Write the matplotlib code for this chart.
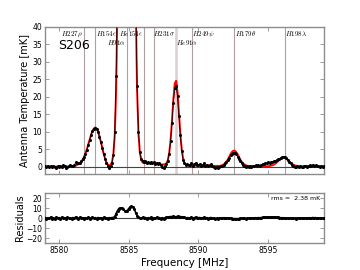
import numpy as np
import matplotlib
matplotlib.use("Agg")
import matplotlib.pyplot as plt

# channel grid, 0.1 MHz steps from 8579.0 to 8599.0
f_start = 8579.0
f_step = 0.1

# observed spectrum [mK]
tdata = [
    0.2, -0.1, 0.3, 0.0, 0.1, -0.2, 0.2, 0.0, -0.3, 0.1,
    -0.1, 0.3, -0.2, 0.4, 0.1, -0.3, 0.0, 0.2, 0.5, 0.3,
    0.1, 0.4, 1.2, 1.0, 0.9, 1.1, 1.5, 2.1, 2.7, 3.6,
    4.9, 6.2, 7.7, 9.2, 10.3, 10.9, 11.0, 10.7, 9.8, 8.5,
    7.0, 5.4, 3.7, 2.2, 1.0, 0.1, -0.3, 0.2, 1.0, 3.3,
    10, 26, 55, 101, 170, 262, 358, 443, 492, 494,
    447, 361, 263, 172, 98, 50, 23, 10, 4.2, 2.2,
    1.6, 1.3, 1.5, 1.1, 1.4, 0.9, 1.2, 1.0, 1.3, 0.8,
    1.0, 0.7, 0.9, 0.4, 0.0, -0.3, 0.2, 0.8, 1.7, 3.6,
    7.2, 12.4, 18.3, 22.4, 23.2, 20.1, 14.6, 9.0, 4.6, 2.0,
    0.9, 0.5, 0.8, 0.4, 0.6, 0.9, 0.3, 0.7, 1.1, 0.5,
    0.4, 0.8, 0.2, 0.5, 0.9, 0.3, 0.6, 0.1, 0.4, 0.7,
    0.2, 0.0, -0.3, -0.1, -0.5, -0.2, 0.1, 0.3, 0.6, 0.9,
    1.4, 1.9, 2.5, 3.2, 3.7, 4.0, 3.9, 3.5, 2.9, 2.3,
    1.6, 1.0, 0.5, 0.2, -0.1, 0.1, -0.2, 0.2, 0.0, 0.3,
    0.1, 0.4, 0.2, 0.5, 0.3, 0.6, 0.8, 0.7, 1.0, 0.9,
    1.2, 1.1, 1.4, 1.3, 1.6, 1.7, 1.9, 2.1, 2.3, 2.6,
    2.8, 2.9, 2.7, 2.4, 1.9, 1.4, 0.9, 0.5, 0.2, 0.0,
    -0.2, 0.1, -0.1, 0.2, 0.0, -0.2, 0.1, 0.3, 0.0, 0.2,
    0.4, 0.1, 0.6, 0.3, 0.5, 0.1, 0.3, -0.1, 0.2, 0.0,
    0.1,
]

# fitted model [mK]
tmodel = [
    0.0, 0.0, 0.0, 0.0, 0.0, 0.0, 0.0, 0.0, 0.0, 0.0,
    0.0, 0.0, 0.0, 0.0, 0.0, 0.0, 0.0, 0.0, 0.0, 0.05,
    0.1, 0.2, 0.3, 0.5, 0.7, 1.0, 1.4, 2.0, 2.8, 3.8,
    5.0, 6.4, 7.8, 9.1, 10.2, 10.9, 11.2, 10.9, 10.1, 8.8,
    7.2, 5.5, 3.8, 2.4, 1.3, 0.6, 0.3, 0.5, 1.3, 3.5,
    9, 22, 48, 93, 162, 253, 353, 441, 493, 493,
    441, 353, 253, 162, 93, 48, 22, 9.5, 4.0, 1.9,
    1.2, 1.0, 1.0, 1.0, 1.0, 1.0, 1.0, 1.0, 1.0, 1.0,
    1.0, 0.8, 0.7, 0.6, 0.6, 0.6, 0.7, 0.9, 1.8, 3.8,
    7.5, 13.0, 19.2, 23.8, 24.6, 21.3, 15.5, 9.5, 5.0, 2.3,
    1.1, 0.6, 0.4, 0.3, 0.3, 0.3, 0.3, 0.3, 0.3, 0.3,
    0.3, 0.3, 0.3, 0.3, 0.3, 0.3, 0.3, 0.3, 0.3, 0.3,
    0.2, 0.2, 0.2, 0.2, 0.2, 0.2, 0.25, 0.4, 0.6, 0.9,
    1.4, 2.0, 2.8, 3.6, 4.2, 4.55, 4.55, 4.2, 3.6, 2.8,
    2.0, 1.4, 0.9, 0.6, 0.4, 0.25, 0.15, 0.1, 0.1, 0.1,
    0.1, 0.1, 0.1, 0.1, 0.1, 0.1, 0.1, 0.1, 0.1, 0.1,
    0.1, 0.18, 0.25, 0.37, 0.56, 0.82, 1.15, 1.54, 1.93, 2.28,
    2.52, 2.6, 2.52, 2.28, 1.93, 1.54, 1.15, 0.82, 0.56, 0.37,
    0.25, 0.18, 0.1, 0.1, 0.1, 0.1, 0.1, 0.1, 0.1, 0.1,
    0.1, 0.1, 0.1, 0.1, 0.1, 0.1, 0.1, 0.1, 0.1, 0.1,
    0.1,
]

# residuals [mK]
resid = [
    0.5, -0.8, 0.3, -0.4, 0.9, -0.6, 0.2, -1.0, 0.7, -0.3,
    0.4, -0.7, 0.8, -0.2, 0.3, -0.9, 0.6, -0.4, 0.2, -0.6,
    0.5, -0.3, 1.0, 0.4, -0.5, 0.7, -0.2, 0.4, -0.6, 0.3,
    -0.4, 0.6, -0.5, 0.2, 0.7, -0.3, 0.4, -0.6, 0.5, -0.2,
    0.3, -0.7, 0.6, -0.4, 0.2, -0.5, 0.4, -0.3, 0.5, 0.5,
    1.5, 4.5, 7.5, 9.5, 10.2, 10.0, 9.0, 7.5, 6.8, 7.5,
    9.5, 11.0, 11.6, 11.2, 9.0, 5.5, 2.5, 0.8, 0.2, -0.4,
    0.6, -0.3, 0.5, -0.6, 0.4, -0.2, 0.7, -0.5, 0.3, -0.4,
    0.6, -0.2, 0.4, -0.7, 0.3, -0.5, 0.2, 0.6, 0.9, 1.2,
    1.5, 1.3, 1.6, 1.2, 1.4, 1.6, 1.1, 1.5, 1.2, 0.9,
    0.6, -0.3, 0.5, -0.4, 0.3, 0.6, -0.5, 0.4, 0.7, -0.2,
    0.3, 0.5, -0.4, 0.2, 0.6, -0.3, 0.4, -0.5, 0.3, 0.5,
    -0.2, -0.4, -0.7, -0.3, -0.8, -0.4, -0.2, 0.1, 0.3, 0.2,
    0.1, -0.2, -0.3, -0.4, -0.5, -0.5, -0.6, -0.7, -0.7, -0.5,
    -0.4, -0.4, -0.4, -0.4, -0.5, -0.2, -0.4, 0.1, -0.1, 0.2,
    0.0, 0.3, 0.1, 0.4, 0.2, 0.5, 0.7, 0.6, 0.9, 0.8,
    1.1, 0.9, 1.2, 0.9, 1.0, 0.9, 0.8, 0.6, 0.4, 0.3,
    0.3, 0.3, 0.2, 0.1, 0.0, -0.1, -0.2, -0.3, -0.4, -0.4,
    -0.5, -0.1, -0.2, 0.1, -0.1, -0.3, 0.0, 0.2, -0.1, 0.1,
    0.3, 0.0, 0.5, 0.2, 0.4, 0.0, 0.2, -0.2, 0.1, -0.1,
    0.0,
]

# recombination lines: name, rest frequency [MHz], label x, label ha, label row
line_names = [r"$H227\rho$", r"$H154\epsilon$", r"$H91\alpha$", r"$He154\epsilon$",
              r"$H231\sigma$", r"$He91\alpha$", r"$H249\psi$", r"$H179\theta$", r"$H198\lambda$"]
line_freqs = [8581.79, 8582.58, 8584.85, 8586.09, 8586.81, 8588.37, 8589.55, 8592.54, 8596.18]
label_x = [8581.72, 8582.63, 8583.45, 8586.05, 8586.77, 8588.37, 8589.56, 8592.60, 8596.20]
label_ha = ["right", "left", "left", "right", "left", "left", "left", "left", "left"]
label_row = [0, 0, 1, 0, 0, 1, 0, 0, 0]

rms = 2.38

freq = f_start + f_step * np.arange(len(tdata))

plt.rcParams["mathtext.fontset"] = "cm"

fig = plt.figure(figsize=(3.6, 2.7), dpi=100)
ax1 = fig.add_axes([0.125, 0.357, 0.775, 0.543])
ax2 = fig.add_axes([0.125, 0.100, 0.775, 0.185])

spine_col = "#8c8c8c"
for ax in (ax1, ax2):
    for s in ax.spines.values():
        s.set_color(spine_col)
        s.set_linewidth(1.0)
    ax.tick_params(direction="in", top=True, right=True, length=3, width=0.6,
                   color=spine_col, labelsize=5.5, pad=2)
    ax.set_xlim(8579.0, 8599.0)
    ax.set_xticks([8580, 8585, 8590, 8595])
    ax.axhline(0, color="#444444", lw=0.8, zorder=1)

# top: spectrum and model
for i, lf in enumerate(line_freqs):
    if line_names[i] == r"$He91\alpha$":
        ax1.axvline(lf, color="#dccfcf", lw=1.8, zorder=0)
    else:
        ax1.axvline(lf, color="#aea0a0", lw=0.8, zorder=0)
    ypos = 39.3 if label_row[i] == 0 else 36.9
    ax1.text(label_x[i], ypos, line_names[i], fontsize=5, ha=label_ha[i], va="top")

ax1.plot(freq, tmodel, color="red", lw=1.4, zorder=2)
ax1.plot(freq, tdata, color="black", lw=0.5, zorder=3)
ax1.plot(freq, tdata, "o", color="black", ms=2.2, mew=0, zorder=3)
ax1.set_ylim(-2, 40)
ax1.set_yticks(range(0, 41, 5))
ax1.set_xticklabels([])
ax1.set_ylabel("Antenna Temperature [mK]", fontsize=7, labelpad=2)
ax1.text(8579.95, 34.8, "S206", fontsize=9, va="center")

# bottom: residuals
ax2.plot(freq, resid, "o", color="black", ms=2.2, mew=0, zorder=3)
ax2.plot(freq, resid, color="black", lw=1.2, zorder=3)
ax2.set_ylim(-25, 25)
ax2.set_yticks([-20, -10, 0, 10, 20])
ax2.set_ylabel("Residuals", fontsize=7, labelpad=1)
ax2.set_xlabel("Frequency [MHz]", fontsize=7.5, labelpad=2)
ax2.text(0.985, 0.95, "rms =  %.2f mK" % rms, transform=ax2.transAxes,
         fontsize=4.5, ha="right", va="top")

plt.savefig("out.png", dpi=100)
